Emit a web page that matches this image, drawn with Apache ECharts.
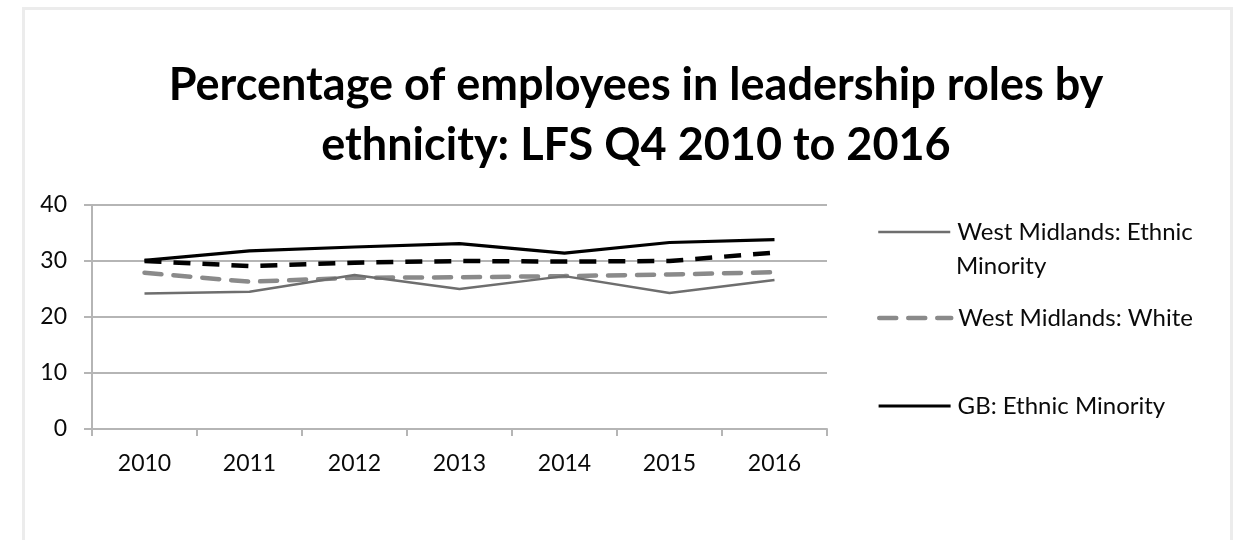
<!DOCTYPE html>
<html>
<head>
<meta charset="utf-8">
<script src="https://cdn.jsdelivr.net/npm/echarts@6/dist/echarts.min.js"></script>
<style>
  html, body { margin: 0; padding: 0; background: #fff; }
  #chart { width: 1243px; height: 540px; }
</style>
</head>
<body>
<div id="chart"></div>
<script>
// Survey years (LFS Q4)
const years = ['2010', '2011', '2012', '2013', '2014', '2015', '2016'];

// Share of employees in leadership roles, %
const wmEthnicMinority = [24.2, 24.5, 27.5, 25.0, 27.3, 24.3, 26.6];
const wmWhite          = [27.9, 26.3, 27.0, 27.1, 27.3, 27.6, 28.0];
const gbEthnicMinority = [30.1, 31.8, 32.5, 33.1, 31.4, 33.3, 33.8];
const gbWhite          = [30.0, 29.1, 29.7, 30.0, 29.9, 30.0, 31.5];

const yTicks = { min: 0, max: 40, interval: 10 };

const FONT = 'Lato, "Open Sans", sans-serif';

const names = {
  wmEM: 'West Midlands: Ethnic Minority',
  wmW: 'West Midlands: White',
  gbEM: 'GB: Ethnic Minority',
  gbW: 'GB: White'
};

// One legend block per entry so each can sit at its own height
function legendAt(name, centerY, formatter) {
  return {
    data: [name],
    left: 877,
    top: centerY - 12,
    padding: 0,
    orient: 'vertical',
    itemWidth: 72,
    itemHeight: 24,
    itemGap: 5,
    selectedMode: false,
    formatter: formatter || '{name}',
    itemStyle: { opacity: 0, color: 'transparent', borderWidth: 0 },
    lineStyle: { width: 'inherit', type: 'inherit', color: 'inherit' },
    textStyle: { fontFamily: FONT, fontSize: 24, color: '#0a0a0a', lineHeight: 24, padding: [0, 0, 0, 2] }
  };
}

const chart = echarts.init(document.getElementById('chart'), null, { renderer: 'canvas' });

chart.setOption({
  backgroundColor: '#fff',
  animation: false,
  title: {
    text: 'Percentage of employees in leadership roles by\nethnicity: LFS Q4 2010 to 2016',
    left: 631,
    textAlign: 'center',
    top: 50,
    textStyle: { fontFamily: FONT, fontWeight: 'bold', fontSize: 45, lineHeight: 60, color: '#000' }
  },
  graphic: [
    {
      type: 'rect',
      shape: { x: 23.5, y: 8.5, width: 1208, height: 560 },
      style: { fill: null, stroke: '#ececec', lineWidth: 3 },
      silent: true,
      z: -1
    },
    {
      type: 'text',
      x: 956,
      y: 266,
      style: { text: 'Minority', fontFamily: FONT, fontSize: 24, fill: '#0a0a0a', verticalAlign: 'middle' }
    }
  ],
  legend: [
    legendAt(names.wmEM, 232, 'West Midlands: Ethnic'),
    legendAt(names.wmW, 318),
    legendAt(names.gbEM, 406)
  ],
  grid: { left: 92, top: 205, width: 735, height: 224 },
  xAxis: {
    type: 'category',
    data: years,
    boundaryGap: true,
    axisLine: { lineStyle: { color: '#b5b5b5', width: 2 } },
    axisTick: { show: true, length: 7, lineStyle: { color: '#b5b5b5', width: 2 } },
    axisLabel: { fontFamily: FONT, fontSize: 23, color: '#0a0a0a', margin: 23 },
    splitLine: { show: false }
  },
  yAxis: {
    type: 'value',
    min: yTicks.min,
    max: yTicks.max,
    interval: yTicks.interval,
    axisLine: { show: true, lineStyle: { color: '#b5b5b5', width: 2 } },
    axisTick: { show: true, length: 8, lineStyle: { color: '#b5b5b5', width: 2 } },
    axisLabel: { fontFamily: FONT, fontSize: 23, color: '#0a0a0a', margin: 25 },
    splitLine: { show: true, lineStyle: { color: '#b5b5b5', width: 2 } }
  },
  series: [
    {
      name: names.wmEM, type: 'line', data: wmEthnicMinority,
      symbol: 'none', z: 4,
      lineStyle: { color: '#6e6e6e', width: 2.5 },
      itemStyle: { color: '#6e6e6e' }
    },
    {
      name: names.wmW, type: 'line', data: wmWhite,
      symbol: 'none', z: 3,
      lineStyle: { color: '#8a8a8a', width: 4.5, type: [17, 12], cap: 'round' },
      itemStyle: { color: '#8a8a8a' }
    },
    {
      name: names.gbEM, type: 'line', data: gbEthnicMinority,
      symbol: 'none', z: 5,
      lineStyle: { color: '#000', width: 3.2 },
      itemStyle: { color: '#000' }
    },
    {
      name: names.gbW, type: 'line', data: gbWhite,
      symbol: 'none', z: 2,
      lineStyle: { color: '#000', width: 4.5, type: [17, 12] },
      itemStyle: { color: '#000' }
    }
  ]
});
</script>
</body>
</html>
